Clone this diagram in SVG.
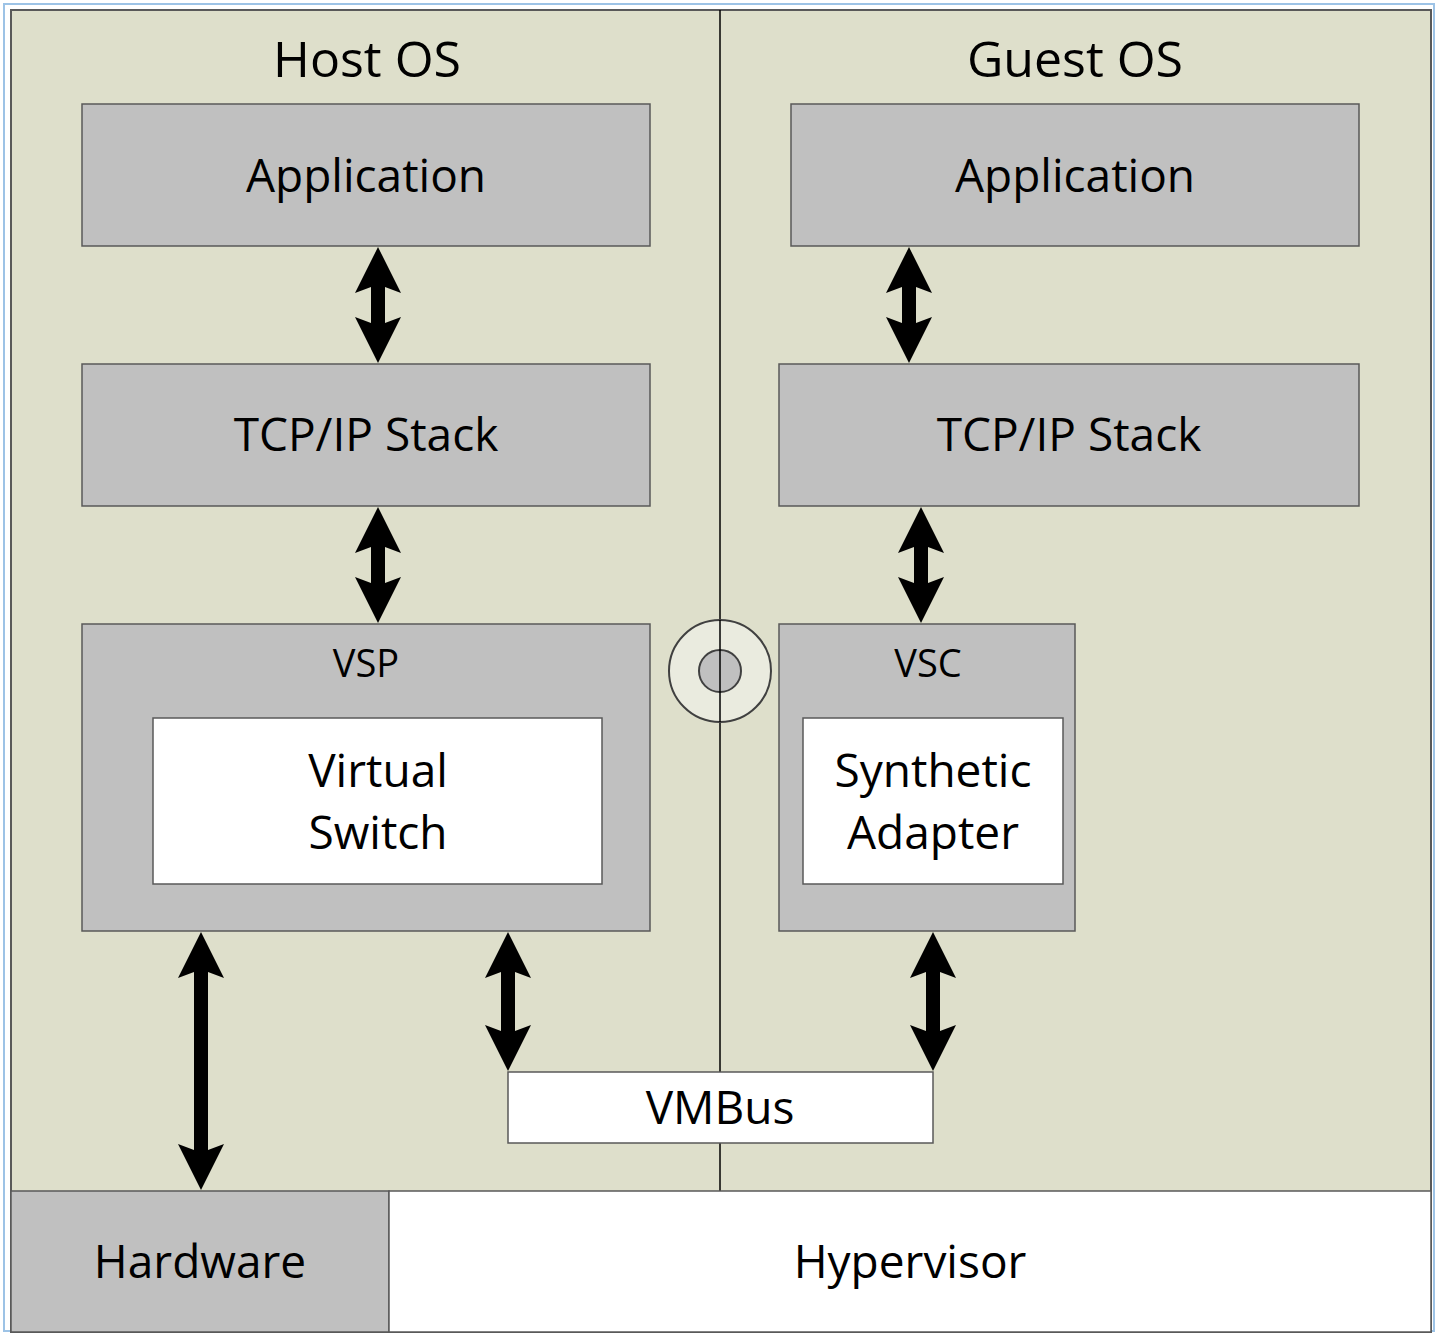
<svg xmlns="http://www.w3.org/2000/svg" width="1438" height="1334" viewBox="0 0 1438 1334">
<style>
text{font-family:"Open Sans","Noto Sans","Liberation Sans",sans-serif;fill:#000;text-anchor:middle}
.t{font-size:50px}
.b{font-size:46px}
.s{font-size:38px}
.gray{fill:#C0C0C0;stroke:#595959;stroke-width:1.5}
.white{fill:#FFFFFF;stroke:#595959;stroke-width:1.5}
.arrow{fill:#000}
</style>
<rect x="0" y="0" width="1438" height="1334" fill="#FFFFFF"/>
<rect x="4" y="4" width="1430" height="1327" fill="none" stroke="#9DC3E6" stroke-width="2"/>
<g id="panel">
<rect x="11" y="10" width="1420" height="1322" fill="#DEDFCB" stroke="#595959" stroke-width="2"/>
<line x1="720" y1="10" x2="720" y2="1191" stroke="#000" stroke-width="1.5"/>
</g>
<g id="host-title"><text class="t" x="367" y="77">Host OS</text></g>
<g id="guest-title"><text class="t" x="1075" y="77">Guest OS</text></g>
<g id="host-app"><rect class="gray" x="82" y="104" width="568" height="142"/><text class="b" x="366" y="192">Application</text></g>
<g id="guest-app"><rect class="gray" x="791" y="104" width="568" height="142"/><text class="b" x="1075" y="192">Application</text></g>
<g id="host-tcp"><rect class="gray" x="82" y="364" width="568" height="142"/><text class="b" x="366" y="451">TCP/IP Stack</text></g>
<g id="guest-tcp"><rect class="gray" x="779" y="364" width="580" height="142"/><text class="b" x="1069" y="451">TCP/IP Stack</text></g>
<g id="vsp"><rect class="gray" x="82" y="624" width="568" height="307"/><text class="s" x="366" y="677">VSP</text></g>
<g id="virtual-switch"><rect class="white" x="153" y="718" width="449" height="166"/><text class="b" x="378" y="787">Virtual</text><text class="b" x="378" y="849">Switch</text></g>
<g id="vsc"><rect class="gray" x="779" y="624" width="296" height="307"/><text class="s" x="928" y="677">VSC</text></g>
<g id="synthetic-adapter"><rect class="white" x="803" y="718" width="260" height="166"/><text class="b" x="933" y="787">Synthetic</text><text class="b" x="933" y="849">Adapter</text></g>
<g id="vmbus"><rect class="white" x="508" y="1072" width="425" height="71"/><text class="b" x="720" y="1124">VMBus</text></g>
<g id="hardware"><rect class="gray" x="11" y="1191" width="378" height="141"/><text class="b" x="200" y="1278">Hardware</text></g>
<g id="hypervisor"><rect class="white" x="389" y="1191" width="1042" height="141"/><text class="b" x="910" y="1278">Hypervisor</text></g>
<g id="connector-icon">
<circle cx="720" cy="671" r="51" fill="#EAEBDF" stroke="#404040" stroke-width="2"/>
<circle cx="720" cy="671" r="21" fill="#C0C0C0" stroke="#404040" stroke-width="2"/>
<line x1="720" y1="620" x2="720" y2="722" stroke="#000" stroke-width="1.5"/>
</g>
<g id="connectors" class="arrow">
<path d="M378,247 L401,293 L385,287 L385,323 L401,317 L378,363 L355,317 L371,323 L371,287 L355,293 Z"/>
<path d="M909,247 L932,293 L916,287 L916,323 L932,317 L909,363 L886,317 L902,323 L902,287 L886,293 Z"/>
<path d="M378,507 L401,553 L385,547 L385,583 L401,577 L378,623 L355,577 L371,583 L371,547 L355,553 Z"/>
<path d="M921,507 L944,553 L928,547 L928,583 L944,577 L921,623 L898,577 L914,583 L914,547 L898,553 Z"/>
<path d="M201,932 L224,978 L208,972 L208,1150 L224,1144 L201,1190 L178,1144 L194,1150 L194,972 L178,978 Z"/>
<path d="M508,932 L531,978 L515,972 L515,1031 L531,1025 L508,1071 L485,1025 L501,1031 L501,972 L485,978 Z"/>
<path d="M933,932 L956,978 L940,972 L940,1031 L956,1025 L933,1071 L910,1025 L926,1031 L926,972 L910,978 Z"/>
</g>
</svg>
